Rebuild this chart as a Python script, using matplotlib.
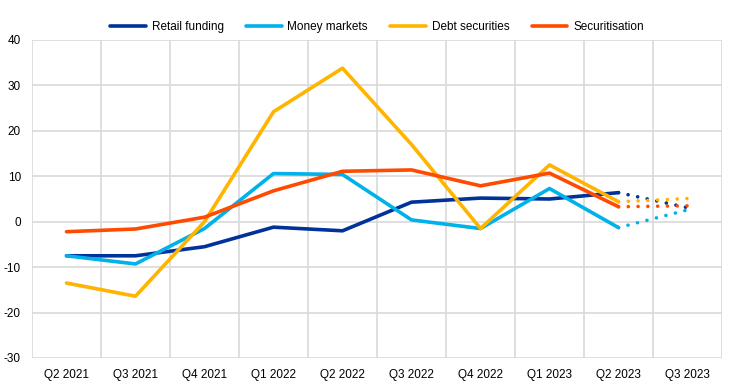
import matplotlib.pyplot as plt
import numpy as np

plt.rcParams['font.family'] = ['Liberation Sans', 'DejaVu Sans']
plt.rcParams['axes.unicode_minus'] = False

quarters = ['Q2 2021', 'Q3 2021', 'Q4 2021', 'Q1 2022', 'Q2 2022',
            'Q3 2022', 'Q4 2022', 'Q1 2023', 'Q2 2023', 'Q3 2023']

# last value of each series is the dotted projection (Q3 2023)
retail = [-7.5, -7.5, -5.5, -1.2, -2.0, 4.3, 5.2, 5.0, 6.4, 3.1]
money = [-7.5, -9.3, -1.5, 10.6, 10.4, 0.4, -1.5, 7.3, -1.3, 2.6]
debt = [-13.5, -16.4, 0.0, 24.2, 33.8, 17.0, -1.5, 12.5, 4.4, 5.1]
securit = [-2.2, -1.6, 1.0, 6.8, 11.1, 11.4, 7.9, 10.7, 3.3, 3.5]

names = ['Retail funding', 'Money markets', 'Debt securities', 'Securitisation']
colors = ['#003299', '#00b1ea', '#ffb400', '#ff4b00']
series = [retail, money, debt, securit]

fig = plt.figure(figsize=(7.39, 3.84), dpi=100)
ax = fig.add_axes([32/739, 1-358/384, 690/739, 318/384])

x = np.arange(len(quarters))
for vals, col, name in zip(series, colors, names):
    ax.plot(x[:-1], vals[:-1], color=col, lw=2.6, label=name, solid_capstyle='round', zorder=3)
    ax.plot(x[-2:], vals[-2:], color=col, lw=2.6, linestyle=(0, (0.01, 2.7)),
            dash_capstyle='round', zorder=3)

ax.set_xlim(-0.5, len(quarters) - 0.5)
ax.set_ylim(-30, 40)
ax.set_yticks(np.arange(-30, 41, 10))
ax.set_xticks(x)
ax.set_xticklabels(quarters)
ax.set_xticks(np.arange(-0.5, len(quarters), 1), minor=True)
ax.grid(True, axis='y', color='#d9d9d9', lw=1.2)
ax.grid(True, axis='x', which='minor', color='#d9d9d9', lw=1.2)
ax.set_axisbelow(True)
for s in ax.spines.values():
    s.set_visible(False)
ax.tick_params(axis='both', which='both', length=0, labelsize=8.5, colors='black')
ax.tick_params(axis='x', pad=8)
ax.tick_params(axis='y', pad=8)

ax.legend(loc='lower center', bbox_to_anchor=(0.5, 1.0), ncol=4, frameon=False,
          fontsize=8.5, handlelength=3, columnspacing=1.9, handletextpad=0.5,
          borderaxespad=0.2)

plt.savefig('out.png', dpi=100)
